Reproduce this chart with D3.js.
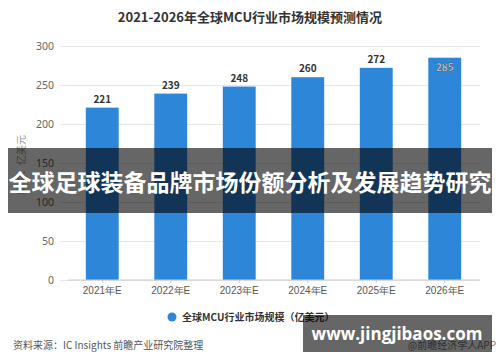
<!DOCTYPE html>
<html>
<head>
<meta charset="utf-8">
<script src="https://cdn.jsdelivr.net/npm/d3@7"></script>
<style>
	body { margin: 0; background: #fff; }
	svg { font-family: "Noto Sans CJK SC", "Noto Sans", sans-serif; }
</style>
</head>
<body>
<div id="chart"></div>
<script>
// data
var years = ["2021年E", "2022年E", "2023年E", "2024年E", "2025年E", "2026年E"];
var marketSize = [221, 239, 248, 260, 272, 285];
var yTicks = [0, 50, 100, 150, 200, 250, 300];

var width = 500, height = 362;

var svg = d3.select("#chart")
	.append("svg")
	.attr("width", width)
	.attr("height", height);

var x = d3.scaleBand()
	.domain(years)
	.range([68, 479])
	.paddingInner(0.52)
	.paddingOuter(0.26);

var y = d3.scaleLinear()
	.domain([0, 300])
	.range([280, 46]);

// title
svg.append("text")
	.attr("x", 250)
	.attr("y", 22)
	.attr("text-anchor", "middle")
	.attr("font-size", 13)
	.attr("font-weight", "bold")
	.attr("fill", "#333")
	.text("2021-2026年全球MCU行业市场规模预测情况");

// gridlines + y labels
var yAxis = svg.append("g")
	.attr("transform", "translate(60,0)")
	.call(d3.axisLeft(y).tickValues(yTicks).tickSize(-420).tickPadding(6));
yAxis.select(".domain").remove();
yAxis.selectAll(".tick line").attr("stroke", "#e6e6e6");
yAxis.selectAll(".tick text").attr("fill", "#666").attr("font-size", 10.5)
	.attr("font-family", "Noto Sans, sans-serif");

// y axis title
svg.append("text")
	.attr("transform", "translate(25,165) rotate(-90)")
	.attr("text-anchor", "middle")
	.attr("font-size", 10)
	.attr("fill", "#999")
	.text("单位：亿美元");

// bars
var data = years.map((d, i) => ({ year: d, value: marketSize[i] }));

svg.selectAll(".bar")
	.data(data)
	.enter()
	.append("rect")
	.attr("class", "bar")
	.attr("x", (d) => x(d.year))
	.attr("y", (d) => y(d.value))
	.attr("width", x.bandwidth())
	.attr("height", (d) => y(0) - y(d.value))
	.attr("fill", "#2e86d9");

// value labels (last one sits inside the bar)
svg.selectAll(".val")
	.data(data)
	.enter()
	.append("text")
	.attr("class", "val")
	.attr("x", (d) => x(d.year) + x.bandwidth() / 2)
	.attr("y", (d) => (y(d.value) < 62 ? y(d.value) + 13 : y(d.value) - 5))
	.attr("text-anchor", "middle")
	.attr("font-size", 10)
	.attr("font-weight", "bold")
	.attr("fill", (d) => (y(d.value) < 62 ? "#dde6ee" : "#333"))
	.attr("stroke", (d) => (y(d.value) < 62 ? "#444" : "none"))
	.attr("stroke-width", 0.4)
	.text((d) => d.value);

// x axis
var xAxis = svg.append("g")
	.attr("transform", "translate(0,280)")
	.call(d3.axisBottom(x).tickSizeOuter(0).tickSize(3).tickPadding(4));
xAxis.select(".domain").attr("stroke", "#ccc").attr("d", "M68,0H480");
xAxis.selectAll(".tick line").attr("stroke", "#ccc");
xAxis.selectAll(".tick text").attr("fill", "#555").attr("font-size", 10);

// legend
svg.append("circle")
	.attr("cx", 172)
	.attr("cy", 317)
	.attr("r", 4.5)
	.attr("fill", "#2e86d9");
svg.append("text")
	.attr("x", 182)
	.attr("y", 321)
	.attr("font-size", 10)
	.attr("font-weight", "bold")
	.attr("fill", "#333")
	.text("全球MCU行业市场规模（亿美元）");

// source
svg.append("text")
	.attr("x", 13)
	.attr("y", 349)
	.attr("font-size", 10)
	.attr("fill", "#555")
	.text("资料来源：IC Insights 前瞻产业研究院整理");

// overlay banner
svg.append("rect")
	.attr("x", 8)
	.attr("y", 148)
	.attr("width", 484)
	.attr("height", 65)
	.attr("fill", "rgba(0,0,0,0.6)");
svg.append("text")
	.attr("x", 250)
	.attr("y", 191)
	.attr("text-anchor", "middle")
	.attr("font-size", 23)
	.attr("font-weight", "bold")
	.attr("fill", "#fff")
	.text("全球足球装备品牌市场份额分析及发展趋势研究");

// site watermark
svg.append("text")
	.attr("x", 496)
	.attr("y", 349)
	.attr("text-anchor", "end")
	.attr("font-size", 10)
	.attr("fill", "#777")
	.text("@前瞻经济学人APP");
svg.append("rect")
	.attr("x", 303)
	.attr("y", 315)
	.attr("width", 189)
	.attr("height", 37)
	.attr("fill", "rgba(0,0,0,0.6)");
svg.append("text")
	.attr("x", 397)
	.attr("y", 340)
	.attr("text-anchor", "middle")
	.attr("font-size", 17)
	.attr("font-weight", "bold")
	.attr("fill", "#fff")
	.attr("font-family", "Open Sans, sans-serif")
	.text("www.jingjibaos.com");
</script>
</body>
</html>
